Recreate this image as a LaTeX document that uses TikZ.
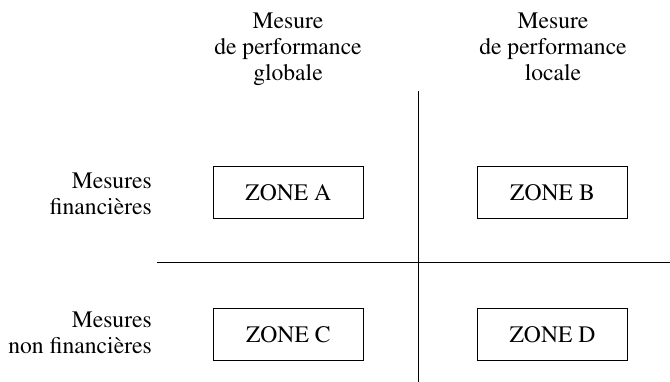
\documentclass[tikz,border=0pt]{standalone}
\usepackage[T1]{fontenc}
\usepackage{times}
\usetikzlibrary{positioning}

\begin{document}
\begin{tikzpicture}[x=1pt, y=-1pt,
    every node/.style={font=\fontsize{23.6}{26.3}\selectfont, inner sep=0pt},
    zone/.style={draw, line width=0.8pt, minimum width=150pt, minimum height=51.5pt},
    header/.style={align=center, anchor=north},
    rowlabel/.style={align=right, anchor=north east}]
      \useasboundingbox (0,0) rectangle (670,382);

      % column headers
      \node[header] (global) at (288, 12.5) {Mesure\\de performance\\globale};
      \node[header] (local) at (553, 12.5) {Mesure\\de performance\\locale};

      % row labels
      \node[rowlabel] (fin) at (152, 172.5) {Mesures\\financières};
      \node[rowlabel] (nonfin) at (152, 311.5) {Mesures\\non financières};

      % quadrant separators
      \coordinate (vtop) at (418.5, 91);
      \coordinate (vbot) at (418.5, 382);
      \coordinate (hleft) at (157, 262);
      \coordinate (hright) at (670, 262);
      \draw[line width=0.8pt] (vtop) -- (vbot);
      \draw[line width=0.8pt] (hleft) -- (hright);

      % zones
      \node[zone] (zoneA) at (288.3, 192.5) {ZONE A};
      \node[zone, right=113.4pt of zoneA] (zoneB) {ZONE B};
      \node[zone, below=89.4pt of zoneA] (zoneC) {ZONE C};
      \node[zone, below=89.4pt of zoneB] (zoneD) {ZONE D};

    \end{tikzpicture}
\end{document}
